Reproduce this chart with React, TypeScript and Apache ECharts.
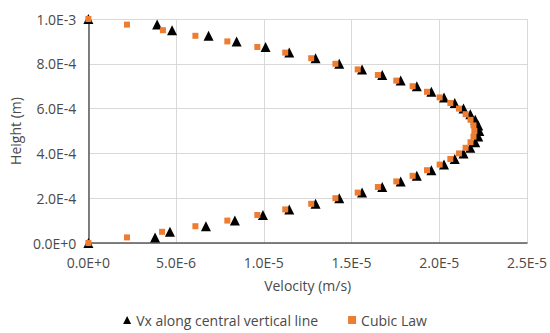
import React, { useEffect, useRef } from "react";
import * as echarts from "echarts";

// Heights (m) of the sampled points along the central vertical line
const heights = [
  0, 2.5e-5, 5.0e-5, 7.5e-5, 1.0e-4, 1.25e-4, 1.5e-4, 1.75e-4, 2.0e-4, 2.25e-4,
  2.5e-4, 2.75e-4, 3.0e-4, 3.25e-4, 3.5e-4, 3.75e-4, 4.0e-4, 4.25e-4, 4.5e-4, 4.75e-4,
  5.0e-4, 5.25e-4, 5.5e-4, 5.75e-4, 6.0e-4, 6.25e-4, 6.5e-4, 6.75e-4, 7.0e-4, 7.25e-4,
  7.5e-4, 7.75e-4, 8.0e-4, 8.25e-4, 8.5e-4, 8.75e-4, 9.0e-4, 9.25e-4, 9.5e-4, 9.75e-4,
  1.0e-3,
];

// Vx along central vertical line (m/s)
const vxVelocity = [
  0, 3.8e-6, 4.65e-6, 6.7e-6, 8.35e-6, 9.95e-6, 11.45e-6, 12.95e-6, 14.3e-6, 15.6e-6,
  16.75e-6, 17.8e-6, 18.72e-6, 19.55e-6, 20.27e-6, 20.88e-6, 21.38e-6, 21.77e-6, 22.05e-6, 22.22e-6,
  22.28e-6, 22.22e-6, 22.05e-6, 21.77e-6, 21.38e-6, 20.88e-6, 20.27e-6, 19.55e-6, 18.72e-6, 17.8e-6,
  16.75e-6, 15.6e-6, 14.3e-6, 12.95e-6, 11.45e-6, 10.1e-6, 8.45e-6, 6.85e-6, 4.77e-6, 3.92e-6,
  0,
];

// Cubic law (m/s)
const cubicVelocity = [
  0, 2.2e-6, 4.2e-6, 6.1e-6, 7.92e-6, 9.63e-6, 11.22e-6, 12.7e-6, 14.08e-6, 15.35e-6,
  16.5e-6, 17.55e-6, 18.48e-6, 19.3e-6, 20.02e-6, 20.63e-6, 21.12e-6, 21.5e-6, 21.78e-6, 21.95e-6,
  22.0e-6, 21.95e-6, 21.78e-6, 21.5e-6, 21.12e-6, 20.63e-6, 20.02e-6, 19.3e-6, 18.48e-6, 17.55e-6,
  16.5e-6, 15.35e-6, 14.08e-6, 12.7e-6, 11.22e-6, 9.63e-6, 7.92e-6, 6.1e-6, 4.25e-6, 2.2e-6,
  0,
];

const seriesNames = ["Vx along central vertical line", "Cubic Law"];

const FONT = "'Open Sans', sans-serif";
const TEXT = "#4a4a4a";

const sci = (v: number) => v.toExponential(1).toUpperCase();

export default function App() {
  const ref = useRef<HTMLDivElement>(null);
  useEffect(() => {
    if (!ref.current) return;
    const chart = echarts.init(ref.current, undefined, { renderer: "svg" });
    chart.setOption({
      animation: false,
      backgroundColor: "#ffffff",
      textStyle: { fontFamily: FONT },
      grid: { left: 88, right: 20, top: 19, bottom: 90 },
      xAxis: {
        type: "value",
        min: 0,
        max: 2.5e-5,
        interval: 5e-6,
        name: "Velocity (m/s)",
        nameLocation: "middle",
        nameGap: 35,
        nameTextStyle: { color: TEXT, fontSize: 14, fontFamily: FONT },
        axisLine: { show: true, onZero: false, lineStyle: { color: "#595959", width: 1.5 } },
        axisTick: { show: false },
        axisLabel: { color: TEXT, fontSize: 14, fontFamily: FONT, margin: 12, formatter: sci },
        splitLine: { show: true, lineStyle: { color: "#d9d9d9", width: 1 } },
      },
      yAxis: {
        type: "value",
        min: 0,
        max: 1e-3,
        interval: 2e-4,
        name: "Height (m)",
        nameLocation: "middle",
        nameRotate: 90,
        nameGap: 62,
        nameTextStyle: { color: TEXT, fontSize: 14, fontFamily: FONT },
        axisLine: { show: true, onZero: false, lineStyle: { color: "#595959", width: 1.5 } },
        axisTick: { show: false },
        axisLabel: { color: TEXT, fontSize: 14, fontFamily: FONT, margin: 12, formatter: sci },
        splitLine: { show: true, lineStyle: { color: "#d9d9d9", width: 1 } },
      },
      legend: {
        bottom: 1,
        left: "center",
        itemWidth: 8,
        itemHeight: 8,
        itemGap: 30,
        textStyle: { color: TEXT, fontSize: 14, fontFamily: FONT },
        data: [
          { name: seriesNames[0], icon: "triangle" },
          { name: seriesNames[1], icon: "rect" },
        ],
      },
      series: [
        {
          name: seriesNames[0],
          type: "scatter",
          symbol: "triangle",
          symbolSize: 10,
          itemStyle: { color: "#000000", opacity: 1 },
          data: heights.map((h, i) => [vxVelocity[i], h]),
        },
        {
          name: seriesNames[1],
          type: "scatter",
          symbol: "rect",
          symbolSize: 6,
          itemStyle: { color: "#ED7D31", opacity: 1 },
          data: heights.map((h, i) => [cubicVelocity[i], h]),
        },
      ],
    });
    return () => chart.dispose();
  }, []);
  return (
    <div
      ref={ref}
      style={{ position: "fixed", left: 0, top: 0, width: 550, height: 333, background: "#fff" }}
    />
  );
}
